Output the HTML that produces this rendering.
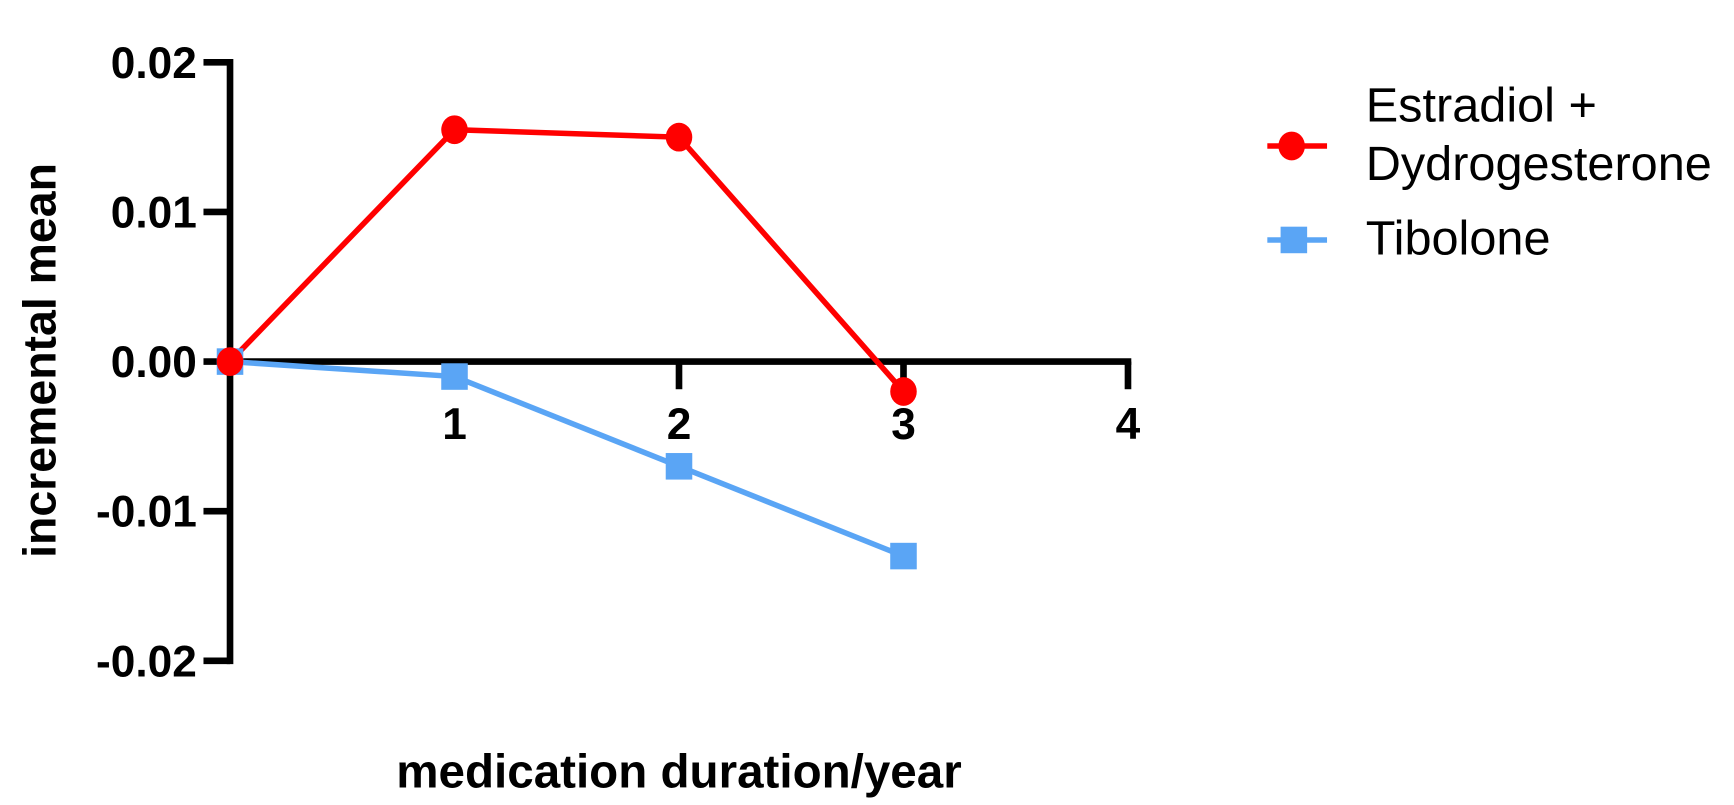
<!DOCTYPE html>
<html><head><meta charset="utf-8"><style>
body{margin:0;background:#fff}
svg{display:block}
text{font-family:"Liberation Sans",Arial,sans-serif}
</style></head><body>
<svg id="chart" width="1734" height="805" viewBox="0 0 1568 728" preserveAspectRatio="none" xmlns="http://www.w3.org/2000/svg">
<g id="axes"></g>
<g id="series"></g>
<text transform="translate(50,326) rotate(-90)" text-anchor="middle" font-size="42" font-weight="bold">incremental mean</text>
<text x="614" y="712" text-anchor="middle" font-size="43" font-weight="bold">medication duration/year</text>
<g>
 <g>
  <line x1="1146" y1="132" x2="1200" y2="132" stroke="#f00" stroke-width="5"/>
  <ellipse cx="1168" cy="132" rx="12" ry="13" fill="#f00"/>
  <text x="1235" y="110" font-size="44">Estradiol +</text>
  <text x="1235" y="163" font-size="44">Dydrogesterone</text>
 </g>
 <g>
  <line x1="1146" y1="217" x2="1200" y2="217" stroke="#5aa5f5" stroke-width="5"/>
  <rect x="1158" y="205" width="24" height="24" fill="#5aa5f5"/>
  <text x="1235" y="230" font-size="44">Tibolone</text>
 </g>
</g>
</svg>
<script>
const xTicks=[1,2,3,4];
const yTicks=[0.02,0.01,0,-0.01,-0.02];
const yTickLabels=["0.02","0.01","0.00","-0.01","-0.02"];
const years=[0,1,2,3];
const estradiol=[0,0.0155,0.015,-0.002];
const tibolone=[0,-0.001,-0.007,-0.013];
const NS="http://www.w3.org/2000/svg";
const X=v=>208+v*203;
const Y=v=>327-v*13530;
function mk(tag,attrs,parent){const e=document.createElementNS(NS,tag);for(const k in attrs)e.setAttribute(k,attrs[k]);parent.appendChild(e);return e;}
const axes=document.getElementById('axes'),ser=document.getElementById('series');
let a=mk('line',{x1:X(0),y1:Y(0.02)-3,x2:X(0),y2:Y(-0.02)+3,stroke:'#000','stroke-width':6},axes);


a=mk('line',{x1:X(0),y1:Y(0),x2:X(4)+3,y2:Y(0),stroke:'#000','stroke-width':6},axes);


yTicks.forEach((v,i)=>{
 const t=mk('line',{x1:X(0)-24,y1:Y(v),x2:X(0),y2:Y(v),stroke:'#000','stroke-width':6},axes);
 
 
 const l=mk('text',{x:178,y:Y(v)+14,'text-anchor':'end','font-size':40,'font-weight':'bold'},axes);
 l.textContent=yTickLabels[i];
 
 
});
xTicks.forEach(v=>{
 const t=mk('line',{x1:X(v),y1:Y(0),x2:X(v),y2:Y(0)+25,stroke:'#000','stroke-width':6},axes);
 
 
 const l=mk('text',{x:X(v),y:Y(0)+70,'text-anchor':'middle','font-size':40,'font-weight':'bold'},axes);
 l.textContent=String(v);
 
 
});
function drawLine(vals,color,name){
 const p=mk('polyline',{points:vals.map((v,i)=>X(years[i])+','+Y(v)).join(' '),fill:'none',stroke:color,'stroke-width':5},ser);
 
 
}
drawLine(tibolone,'#5aa5f5','tibolone');
drawLine(estradiol,'#f00','estradiol');
tibolone.forEach((v,i)=>{
 const r=mk('rect',{x:X(years[i])-12,y:Y(v)-12,width:24,height:24,fill:'#5aa5f5'},ser);
 
 
});
estradiol.forEach((v,i)=>{
 const c=mk('ellipse',{cx:X(years[i]),cy:Y(v),rx:12,ry:13,fill:'#f00'},ser);
 
 
});
</script>
</body></html>
